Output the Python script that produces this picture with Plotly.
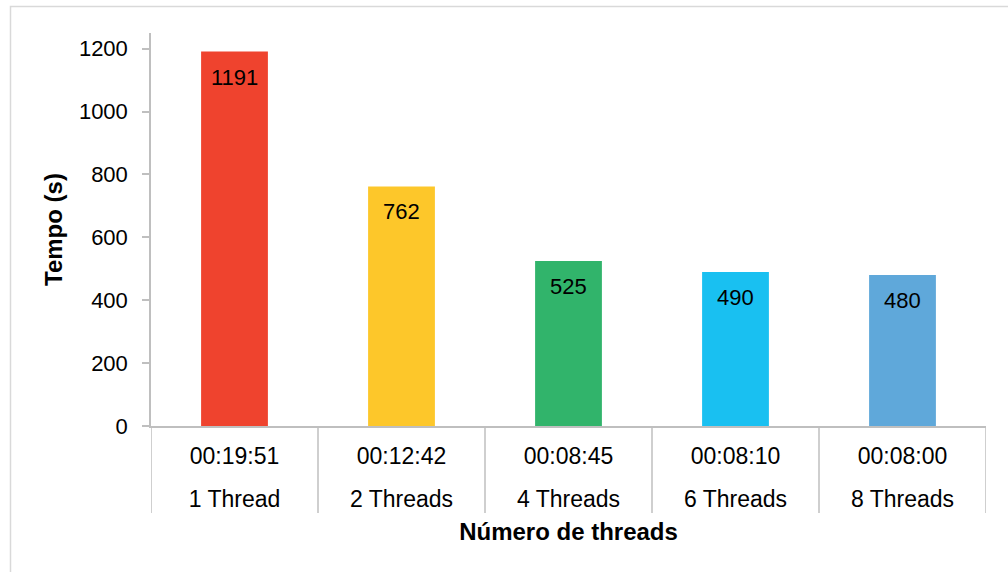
import plotly.graph_objects as go

# Execution time per thread count
threads = ["1 Thread", "2 Threads", "4 Threads", "6 Threads", "8 Threads"]
durations = ["00:19:51", "00:12:42", "00:08:45", "00:08:10", "00:08:00"]
seconds = [1191, 762, 525, 490, 480]
colors = ["#EF432E", "#FDC72A", "#31B46B", "#19C0F1", "#5FA8DA"]
y_ticks = [0, 200, 400, 600, 800, 1000, 1200]

FONT = "Liberation Sans, Arial, Helvetica, sans-serif"
GRID = "#BFBFBF"

W, H = 1008, 572
L, R, T, B = 151, 22, 33, 20
PW, PH = W - L - R, H - T - B
AXIS_Y = 426        # pixel row of the value axis baseline
THREAD_ROW = 483    # pixel row of the second (thread count) label axis
DIVIDER_END = 513   # pixel row where category dividers stop


def px_to_paper_x(px):
    return (px - L) / PW


def px_to_paper_y(py):
    return (H - B - py) / PH


fig = go.Figure()
fig.add_trace(
    go.Bar(
        x=threads,
        y=seconds,
        marker=dict(color=colors, line=dict(width=0)),
        width=0.4,
        hoverinfo="y",
    )
)
# Invisible companion trace so the thread-count axis is drawn
fig.add_trace(
    go.Scatter(
        x=threads,
        y=seconds,
        xaxis="x2",
        mode="markers",
        marker=dict(opacity=0),
        hoverinfo="skip",
    )
)

# Value labels just inside the top of each bar
for th, v in zip(threads, seconds):
    fig.add_annotation(
        x=th,
        y=v,
        xref="x",
        yref="y",
        text=str(v),
        showarrow=False,
        yanchor="top",
        yshift=-11,
        font=dict(family=FONT, size=22, color="#000000"),
    )

# Vertical dividers between categories, spanning both label rows
for i in range(len(threads) + 1):
    fig.add_shape(
        type="line",
        xref="x",
        yref="paper",
        x0=i - 0.5,
        x1=i - 0.5,
        y0=px_to_paper_y(AXIS_Y),
        y1=px_to_paper_y(DIVIDER_END),
        line=dict(color=GRID, width=1.5),
    )

# Light frame around the chart area
fig.add_shape(
    type="rect",
    xref="paper",
    yref="paper",
    x0=px_to_paper_x(10.5),
    x1=px_to_paper_x(1020),
    y0=px_to_paper_y(590),
    y1=px_to_paper_y(6.5),
    line=dict(color="#D9D9D9", width=1.5),
    layer="below",
)

fig.update_layout(
    width=W,
    height=H,
    margin=dict(l=L, r=R, t=T, b=B),
    paper_bgcolor="white",
    plot_bgcolor="white",
    font=dict(family=FONT, size=22, color="#000000"),
    showlegend=False,
    xaxis=dict(
        type="category",
        categoryarray=threads,
        range=[-0.5, len(threads) - 0.5],
        anchor="y",
        tickvals=threads,
        ticktext=durations,
        showline=True,
        linecolor=GRID,
        linewidth=1.5,
        showgrid=False,
        ticks="",
        ticklabelstandoff=9,
        tickfont=dict(family=FONT, size=23, color="#000000"),
        automargin=False,
    ),
    xaxis2=dict(
        type="category",
        categoryarray=threads,
        matches="x",
        overlaying="x",
        anchor="free",
        position=px_to_paper_y(THREAD_ROW),
        side="bottom",
        tickvals=threads,
        ticktext=threads,
        showline=False,
        showgrid=False,
        ticks="",
        tickfont=dict(family=FONT, size=23, color="#000000"),
        automargin=False,
        title=dict(
            text="<b>Número de threads</b>",
            font=dict(family=FONT, size=24, color="#000000"),
            standoff=12,
        ),
    ),
    yaxis=dict(
        domain=[px_to_paper_y(AXIS_Y), 1],
        range=[0, 1250],
        tickvals=y_ticks,
        showline=True,
        linecolor=GRID,
        linewidth=1.5,
        showgrid=False,
        zeroline=False,
        ticks="outside",
        ticklen=7,
        tickcolor=GRID,
        tickwidth=1.5,
        ticklabelstandoff=10,
        tickfont=dict(family=FONT, size=22, color="#000000"),
        automargin=False,
        title=dict(
            text="<b>Tempo (s)</b>",
            font=dict(family=FONT, size=24, color="#000000"),
            standoff=9,
        ),
    ),
)

fig.write_html("out.html")
